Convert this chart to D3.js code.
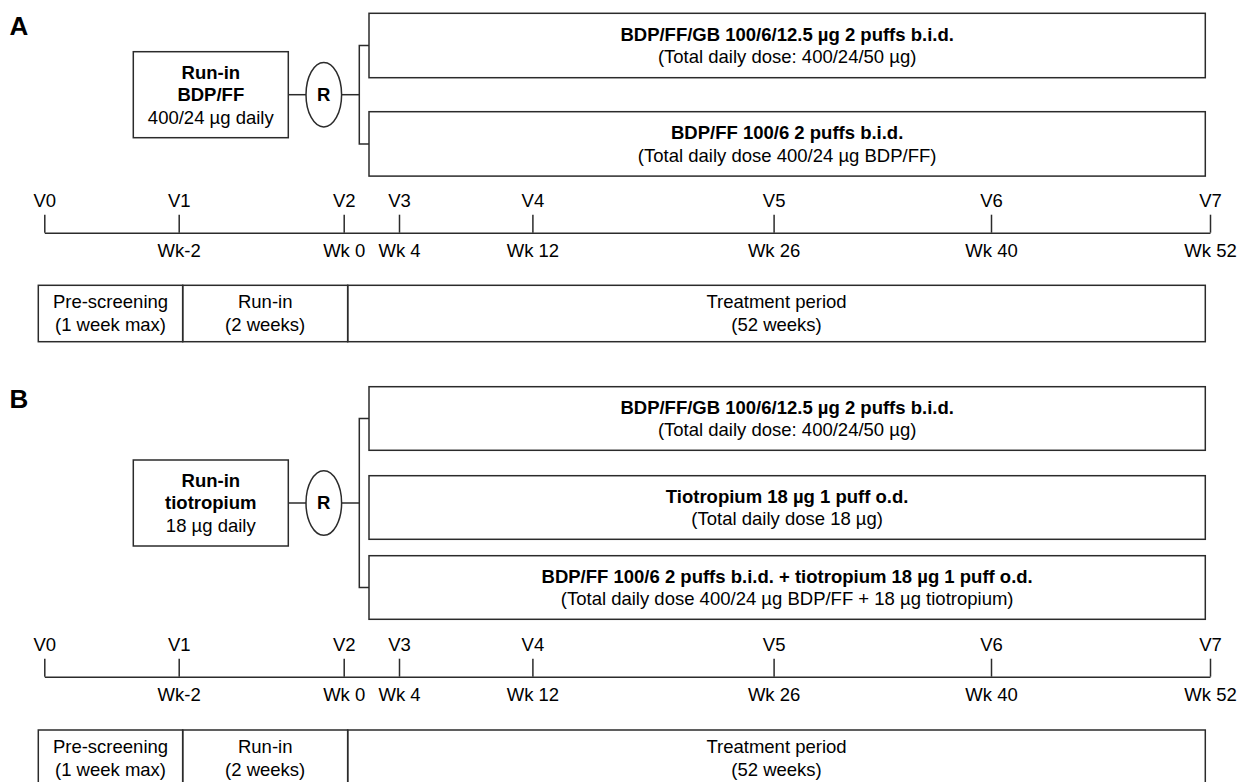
<!DOCTYPE html>
<html>
<head>
<meta charset="utf-8">
<script src="https://cdn.jsdelivr.net/npm/d3@7"></script>
<style>
  html, body { margin: 0; padding: 0; background: #fff; }
  svg { display: block; }
  text { font-family: "Liberation Sans", Arial, Helvetica, sans-serif; fill: #000; }
</style>
</head>
<body>
<svg id="chart" width="1248" height="782"></svg>
<script>
// ---------------- DATA ----------------
const visits      = ["V0", "V1", "V2", "V3", "V4", "V5", "V6", "V7"];
const visitWeeks  = [-3, -2, 0, 4, 12, 26, 40, 52];
const weekLabels  = ["", "Wk-2", "Wk 0", "Wk 4", "Wk 12", "Wk 26", "Wk 40", "Wk 52"];

const periodNames = ["Pre-screening", "Run-in", "Treatment period"];
const periodSubs  = ["(1 week max)", "(2 weeks)", "(52 weeks)"];
const periodStart = [-3, -2, 0];
const periodEnd   = [-2, 0, 52];

const panelLabels = ["A", "B"];

const runInTitleA = ["Run-in", "BDP/FF"];
const runInDoseA  = "400/24 µg daily";
const runInTitleB = ["Run-in", "tiotropium"];
const runInDoseB  = "18 µg daily";

const armTitlesA = ["BDP/FF/GB 100/6/12.5 µg 2 puffs b.i.d.",
                    "BDP/FF 100/6 2 puffs b.i.d."];
const armSubsA   = ["(Total daily dose: 400/24/50 µg)",
                    "(Total daily dose 400/24 µg BDP/FF)"];
const armTitlesB = ["BDP/FF/GB 100/6/12.5 µg 2 puffs b.i.d.",
                    "Tiotropium 18 µg 1 puff o.d.",
                    "BDP/FF 100/6 2 puffs b.i.d. + tiotropium 18 µg 1 puff o.d."];
const armSubsB   = ["(Total daily dose: 400/24/50 µg)",
                    "(Total daily dose 18 µg)",
                    "(Total daily dose 400/24 µg BDP/FF + 18 µg tiotropium)"];

const randLabel = "R";

// ---------------- LAYOUT ----------------
const FS = 18.5;
const STROKE = "#2b2b2b";
const SW = 1.5;

const layout = [
  { labelBase: 35,  armTops: [13.3, 111.7],         armH: 64.4,
    runTop: 51.7, runBottom: 137.7, axisY: 232.7, perTop: 285.3, perBottom: 341.7 },
  { labelBase: 408.3, armTops: [386.7, 475.7, 555.7], armH: 63.6,
    runTop: 460, runBottom: 546, axisY: 676.7, perTop: 730, perBottom: 786 }
];

const panels = [
  { label: panelLabels[0], runTitle: runInTitleA, runDose: runInDoseA,
    arms: armTitlesA.map((t, i) => ({ title: t, sub: armSubsA[i] })) },
  { label: panelLabels[1], runTitle: runInTitleB, runDose: runInDoseB,
    arms: armTitlesB.map((t, i) => ({ title: t, sub: armSubsB[i] })) }
];

// Scales
const x = d3.scaleLinear().domain(visitWeeks)
  .range([44.3, 178.7, 343.7, 399, 532.4, 773.6, 991, 1210]);
const xPeriod = d3.scaleLinear().domain([-3, -2, 0, 52])
  .range([38.3, 182.7, 347.7, 1205.3]);

const runX0 = 133.3, runX1 = 288.3;
const ellCx = 323.8, ellRx = 17.8, ellRy = 32.2;
const brX = 359.3, armX0 = 369, armX1 = 1205.3;

const svg = d3.select("#chart");
svg.append("rect").attr("width", 1248).attr("height", 782).attr("fill", "#fff");

panels.forEach((p, pi) => {
  const L = layout[pi];
  const g = svg.append("g");

  // Panel label
  g.append("text").attr("x", 9.5).attr("y", L.labelBase)
    .attr("font-size", 26).attr("font-weight", "bold").text(p.label);

  // Run-in box
  const runCy = (L.runTop + L.runBottom) / 2;
  g.append("rect").attr("x", runX0).attr("y", L.runTop)
    .attr("width", runX1 - runX0).attr("height", L.runBottom - L.runTop)
    .attr("fill", "none").attr("stroke", STROKE).attr("stroke-width", SW);
  const runLines = [
    { t: p.runTitle[0], b: true }, { t: p.runTitle[1], b: true }, { t: p.runDose, b: false }
  ];
  g.selectAll(".runtxt").data(runLines).join("text")
    .attr("x", (runX0 + runX1) / 2)
    .attr("y", (d, i) => runCy + (i - 1) * 22.5)
    .attr("dy", "0.35em").attr("text-anchor", "middle")
    .attr("font-size", FS).attr("font-weight", d => d.b ? "bold" : "normal")
    .text(d => d.t);

  // Line box -> ellipse
  g.append("line").attr("x1", runX1).attr("x2", ellCx - ellRx)
    .attr("y1", runCy).attr("y2", runCy)
    .attr("stroke", STROKE).attr("stroke-width", SW);
  // Ellipse
  g.append("ellipse").attr("cx", ellCx).attr("cy", runCy)
    .attr("rx", ellRx).attr("ry", ellRy)
    .attr("fill", "#fff").attr("stroke", STROKE).attr("stroke-width", SW);
  g.append("text").attr("x", ellCx).attr("y", runCy).attr("dy", "0.35em")
    .attr("text-anchor", "middle").attr("font-size", FS).attr("font-weight", "bold")
    .text(randLabel);
  // Ellipse -> bracket
  g.append("line").attr("x1", ellCx + ellRx).attr("x2", brX)
    .attr("y1", runCy).attr("y2", runCy)
    .attr("stroke", STROKE).attr("stroke-width", SW);

  // Arms
  const mids = L.armTops.map(t => t + L.armH / 2);
  const first = mids[0], last = mids[mids.length - 1];
  g.append("path")
    .attr("d", `M${armX0},${first}H${brX}V${last}H${armX0}`)
    .attr("fill", "none").attr("stroke", STROKE).attr("stroke-width", SW);

  const arm = g.selectAll(".arm").data(p.arms).join("g");
  arm.append("rect")
    .attr("x", armX0).attr("y", (d, i) => L.armTops[i])
    .attr("width", armX1 - armX0).attr("height", L.armH)
    .attr("fill", "#fff").attr("stroke", STROKE).attr("stroke-width", SW);
  arm.append("text")
    .attr("x", (armX0 + armX1) / 2).attr("y", (d, i) => mids[i] - 11)
    .attr("dy", "0.35em").attr("text-anchor", "middle")
    .attr("font-size", FS).attr("font-weight", "bold").text(d => d.title);
  arm.append("text")
    .attr("x", (armX0 + armX1) / 2).attr("y", (d, i) => mids[i] + 11.5)
    .attr("dy", "0.35em").attr("text-anchor", "middle")
    .attr("font-size", FS).text(d => d.sub);

  // Timeline axis (visit labels above)
  const axTop = d3.axisTop(x).tickValues(visitWeeks)
    .tickSize(18).tickSizeOuter(0).tickPadding(7.5)
    .tickFormat((d, i) => visits[i]);
  const ag = g.append("g").attr("transform", `translate(0,${L.axisY})`).call(axTop);
  ag.selectAll("path, line").attr("stroke", STROKE).attr("stroke-width", SW);
  ag.selectAll("text").attr("font-size", FS).attr("fill", "#000")
    .style("font-family", '"Liberation Sans", Arial, sans-serif');
  ag.attr("font-size", null).attr("font-family", null);

  // Week labels below
  const axBot = d3.axisBottom(x).tickValues(visitWeeks)
    .tickSize(0).tickPadding(11).tickFormat((d, i) => weekLabels[i]);
  const bg = g.append("g").attr("transform", `translate(0,${L.axisY})`).call(axBot);
  bg.select(".domain").remove();
  bg.selectAll("line").remove();
  bg.selectAll("text").attr("font-size", FS).attr("fill", "#000")
    .style("font-family", '"Liberation Sans", Arial, sans-serif');
  bg.attr("font-size", null).attr("font-family", null);

  // Period box
  const pcy = (L.perTop + L.perBottom) / 2;
  const pers = periodNames.map((n, i) => ({ n, s: periodSubs[i], a: periodStart[i], b: periodEnd[i] }));
  const pg = g.selectAll(".per").data(pers).join("g");
  pg.append("rect")
    .attr("x", d => xPeriod(d.a)).attr("y", L.perTop)
    .attr("width", d => xPeriod(d.b) - xPeriod(d.a)).attr("height", L.perBottom - L.perTop)
    .attr("fill", "none").attr("stroke", STROKE).attr("stroke-width", SW);
  pg.append("text")
    .attr("x", d => (xPeriod(d.a) + xPeriod(d.b)) / 2).attr("y", pcy - 11.5)
    .attr("dy", "0.35em").attr("text-anchor", "middle").attr("font-size", FS).text(d => d.n);
  pg.append("text")
    .attr("x", d => (xPeriod(d.a) + xPeriod(d.b)) / 2).attr("y", pcy + 11.5)
    .attr("dy", "0.35em").attr("text-anchor", "middle").attr("font-size", FS).text(d => d.s);
});
</script>
</body>
</html>
